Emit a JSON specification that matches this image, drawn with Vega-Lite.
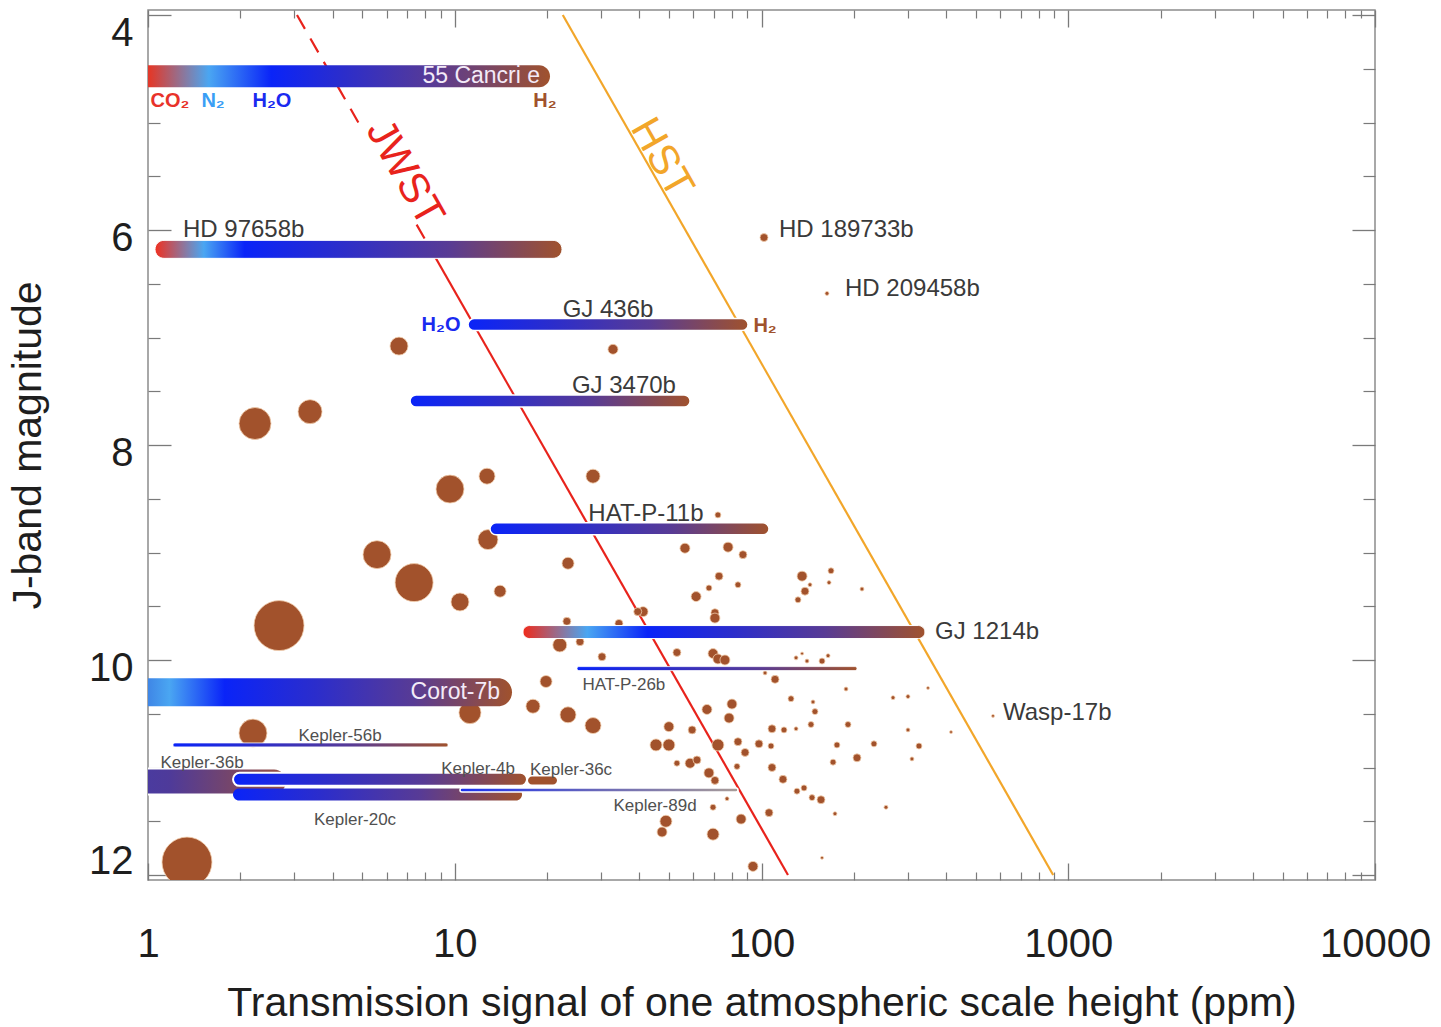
{
  "$schema": "https://vega.github.io/schema/vega-lite/v6.json",
  "width": 1227,
  "height": 870,
  "autosize": {"type": "none"},
  "padding": {"left": 148, "top": 10, "right": 66, "bottom": 147},
  "background": "white",
  "config": {
    "view": {"stroke": "#8c8c8c", "strokeWidth": 1.5},
    "font": "Liberation Sans",
    "axis": {"grid": false, "domain": false, "labelFont": "Liberation Sans", "titleFont": "Liberation Sans"},
    "text": {"font": "Liberation Sans"}
  },
  "datasets": {
    "limits": [
      {"instrument": "JWST", "segment": "solid", "ppm": 8.43, "jmag": 6.2},
      {"instrument": "JWST", "segment": "solid", "ppm": 122, "jmag": 12},
      {"instrument": "HST", "segment": "solid", "ppm": 22.5, "jmag": 4},
      {"instrument": "HST", "segment": "solid", "ppm": 893, "jmag": 12},
      {"instrument": "JWST", "segment": "dashA", "ppm": 3.06, "jmag": 4},
      {"instrument": "JWST", "segment": "dashA", "ppm": 4.85, "jmag": 5.0},
      {"instrument": "JWST", "segment": "dashB", "ppm": 7.51, "jmag": 5.95},
      {"instrument": "JWST", "segment": "dashB", "ppm": 8.43, "jmag": 6.2}
    ],
    "instrument_labels": [
      {"instrument": "JWST", "ppm": 6.88, "jmag": 5.47},
      {"instrument": "HST", "ppm": 47.4, "jmag": 5.33}
    ],
    "planets": [
      {"ppm": 101.9, "jmag": 6.07, "radius": 1.6},
      {"ppm": 163.5, "jmag": 6.59, "radius": 0.8},
      {"ppm": 6.58, "jmag": 7.08, "radius": 3.6},
      {"ppm": 32.8, "jmag": 7.11, "radius": 2.0},
      {"ppm": 2.233, "jmag": 7.80, "radius": 6.4},
      {"ppm": 3.375, "jmag": 7.69, "radius": 4.8},
      {"ppm": 9.65, "jmag": 8.41, "radius": 5.6},
      {"ppm": 12.74, "jmag": 8.29, "radius": 3.2},
      {"ppm": 28.23, "jmag": 8.29, "radius": 2.8},
      {"ppm": 12.83, "jmag": 8.88, "radius": 4.0},
      {"ppm": 5.58, "jmag": 9.02, "radius": 5.6},
      {"ppm": 7.37, "jmag": 9.28, "radius": 7.6},
      {"ppm": 10.40, "jmag": 9.46, "radius": 3.6},
      {"ppm": 14.05, "jmag": 9.36, "radius": 2.4},
      {"ppm": 23.40, "jmag": 9.10, "radius": 2.4},
      {"ppm": 2.674, "jmag": 9.68, "radius": 10.0},
      {"ppm": 72.1, "jmag": 8.65, "radius": 1.2},
      {"ppm": 56.3, "jmag": 8.96, "radius": 2.0},
      {"ppm": 77.8, "jmag": 8.95, "radius": 2.0},
      {"ppm": 87.0, "jmag": 9.02, "radius": 1.6},
      {"ppm": 72.7, "jmag": 9.22, "radius": 1.6},
      {"ppm": 67.4, "jmag": 9.33, "radius": 1.2},
      {"ppm": 83.8, "jmag": 9.30, "radius": 1.2},
      {"ppm": 61.2, "jmag": 9.41, "radius": 2.0},
      {"ppm": 135.6, "jmag": 9.22, "radius": 2.0},
      {"ppm": 168.5, "jmag": 9.17, "radius": 1.2},
      {"ppm": 166.0, "jmag": 9.28, "radius": 0.8},
      {"ppm": 143.9, "jmag": 9.30, "radius": 0.8},
      {"ppm": 138.6, "jmag": 9.36, "radius": 1.6},
      {"ppm": 131.5, "jmag": 9.44, "radius": 1.2},
      {"ppm": 212.6, "jmag": 9.34, "radius": 0.8},
      {"ppm": 41.1, "jmag": 9.55, "radius": 2.0},
      {"ppm": 39.5, "jmag": 9.55, "radius": 1.6},
      {"ppm": 70.5, "jmag": 9.56, "radius": 1.6},
      {"ppm": 70.5, "jmag": 9.61, "radius": 2.0},
      {"ppm": 23.2, "jmag": 9.64, "radius": 1.6},
      {"ppm": 34.3, "jmag": 9.66, "radius": 1.6},
      {"ppm": 22.0, "jmag": 9.86, "radius": 2.8},
      {"ppm": 25.6, "jmag": 9.83, "radius": 1.6},
      {"ppm": 53.0, "jmag": 9.93, "radius": 1.6},
      {"ppm": 30.2, "jmag": 9.97, "radius": 1.6},
      {"ppm": 69.5, "jmag": 9.94, "radius": 2.0},
      {"ppm": 72.1, "jmag": 9.99, "radius": 2.0},
      {"ppm": 76.0, "jmag": 10.00, "radius": 2.0},
      {"ppm": 129.6, "jmag": 9.98, "radius": 0.8},
      {"ppm": 140.7, "jmag": 10.01, "radius": 0.8},
      {"ppm": 157.5, "jmag": 10.01, "radius": 1.2},
      {"ppm": 164.8, "jmag": 9.96, "radius": 0.8},
      {"ppm": 135.6, "jmag": 9.94, "radius": 0.6},
      {"ppm": 102.7, "jmag": 10.12, "radius": 0.8},
      {"ppm": 110.7, "jmag": 10.18, "radius": 1.6},
      {"ppm": 19.84, "jmag": 10.20, "radius": 2.4},
      {"ppm": 17.99, "jmag": 10.43, "radius": 2.8},
      {"ppm": 23.40, "jmag": 10.51, "radius": 3.2},
      {"ppm": 28.23, "jmag": 10.61, "radius": 3.2},
      {"ppm": 66.4, "jmag": 10.46, "radius": 2.0},
      {"ppm": 80.1, "jmag": 10.41, "radius": 2.0},
      {"ppm": 78.4, "jmag": 10.54, "radius": 2.0},
      {"ppm": 49.9, "jmag": 10.62, "radius": 2.0},
      {"ppm": 59.4, "jmag": 10.65, "radius": 1.6},
      {"ppm": 124.8, "jmag": 10.36, "radius": 1.2},
      {"ppm": 147.2, "jmag": 10.39, "radius": 0.8},
      {"ppm": 149.4, "jmag": 10.48, "radius": 1.2},
      {"ppm": 145.0, "jmag": 10.60, "radius": 1.2},
      {"ppm": 129.6, "jmag": 10.64, "radius": 0.8},
      {"ppm": 191.4, "jmag": 10.60, "radius": 1.2},
      {"ppm": 188.6, "jmag": 10.27, "radius": 0.8},
      {"ppm": 268.4, "jmag": 10.35, "radius": 0.8},
      {"ppm": 300.3, "jmag": 10.34, "radius": 0.8},
      {"ppm": 349.0, "jmag": 10.26, "radius": 0.6},
      {"ppm": 300.3, "jmag": 10.65, "radius": 0.8},
      {"ppm": 414.8, "jmag": 10.67, "radius": 0.6},
      {"ppm": 568.5, "jmag": 10.52, "radius": 0.6},
      {"ppm": 45.3, "jmag": 10.79, "radius": 2.4},
      {"ppm": 49.9, "jmag": 10.79, "radius": 2.4},
      {"ppm": 72.1, "jmag": 10.79, "radius": 2.4},
      {"ppm": 83.8, "jmag": 10.76, "radius": 1.6},
      {"ppm": 88.4, "jmag": 10.86, "radius": 1.6},
      {"ppm": 98.1, "jmag": 10.78, "radius": 1.6},
      {"ppm": 107.4, "jmag": 10.80, "radius": 1.2},
      {"ppm": 108.2, "jmag": 10.64, "radius": 1.6},
      {"ppm": 118.4, "jmag": 10.65, "radius": 1.2},
      {"ppm": 176.2, "jmag": 10.79, "radius": 1.2},
      {"ppm": 232.6, "jmag": 10.78, "radius": 1.2},
      {"ppm": 326.1, "jmag": 10.80, "radius": 1.2},
      {"ppm": 171.1, "jmag": 10.95, "radius": 1.2},
      {"ppm": 204.8, "jmag": 10.91, "radius": 1.6},
      {"ppm": 309.4, "jmag": 10.92, "radius": 0.8},
      {"ppm": 53.0, "jmag": 10.96, "radius": 1.2},
      {"ppm": 58.5, "jmag": 10.96, "radius": 2.0},
      {"ppm": 61.6, "jmag": 10.93, "radius": 1.6},
      {"ppm": 83.2, "jmag": 10.99, "radius": 1.2},
      {"ppm": 108.2, "jmag": 11.00, "radius": 1.6},
      {"ppm": 67.4, "jmag": 11.05, "radius": 2.0},
      {"ppm": 70.5, "jmag": 11.12, "radius": 1.6},
      {"ppm": 117.5, "jmag": 11.11, "radius": 1.6},
      {"ppm": 130.5, "jmag": 11.22, "radius": 1.2},
      {"ppm": 137.6, "jmag": 11.19, "radius": 1.2},
      {"ppm": 146.1, "jmag": 11.28, "radius": 1.2},
      {"ppm": 156.3, "jmag": 11.30, "radius": 1.6},
      {"ppm": 173.6, "jmag": 11.43, "radius": 0.8},
      {"ppm": 254.6, "jmag": 11.37, "radius": 0.8},
      {"ppm": 69.5, "jmag": 11.37, "radius": 1.2},
      {"ppm": 77.2, "jmag": 11.29, "radius": 0.8},
      {"ppm": 105.8, "jmag": 11.42, "radius": 1.6},
      {"ppm": 85.8, "jmag": 11.48, "radius": 2.0},
      {"ppm": 48.8, "jmag": 11.50, "radius": 2.4},
      {"ppm": 47.4, "jmag": 11.60, "radius": 2.0},
      {"ppm": 69.5, "jmag": 11.62, "radius": 2.4},
      {"ppm": 157.5, "jmag": 11.84, "radius": 0.6},
      {"ppm": 93.8, "jmag": 11.92, "radius": 2.0},
      {"ppm": 11.21, "jmag": 10.49, "radius": 4.4},
      {"ppm": 2.199, "jmag": 10.68, "radius": 5.6},
      {"ppm": 1.340, "jmag": 11.88, "radius": 10.0}
    ],
    "bars": [
      {"name": "55 Cancri e", "ppm": 0.9, "ppm2": 20.44, "jmag": 4.57},
      {"name": "HD 97658b", "ppm": 1.054, "ppm2": 22.37, "jmag": 6.18},
      {"name": "GJ 436b", "ppm": 11.05, "ppm2": 90.4, "jmag": 6.88},
      {"name": "GJ 3470b", "ppm": 7.15, "ppm2": 58.5, "jmag": 7.59},
      {"name": "HAT-P-11b", "ppm": 13.03, "ppm2": 105.8, "jmag": 8.78},
      {"name": "GJ 1214b", "ppm": 16.69, "ppm2": 341, "jmag": 9.74},
      {"name": "HAT-P-26b", "ppm": 25.03, "ppm2": 204.8, "jmag": 10.08},
      {"name": "Corot-7b", "ppm": 0.8, "ppm2": 15.37, "jmag": 10.30},
      {"name": "Kepler-56b", "ppm": 1.206, "ppm2": 9.51, "jmag": 10.79},
      {"name": "Kepler-36b", "ppm": 0.8, "ppm2": 2.839, "jmag": 11.13},
      {"name": "Kepler-20c", "ppm": 1.893, "ppm2": 16.57, "jmag": 11.25},
      {"name": "Kepler-4b", "ppm": 1.893, "ppm2": 17.20, "jmag": 11.11},
      {"name": "Kepler-89d", "ppm": 10.40, "ppm2": 83.8, "jmag": 11.21},
      {"name": "Kepler-36c", "ppm": 17.33, "ppm2": 21.54, "jmag": 11.12}
    ],
    "labels_left": [
      {"label": "HD 97658b", "ppm": 1.300, "jmag": 6.00},
      {"label": "HD 189733b", "ppm": 114.0, "jmag": 6.00},
      {"label": "HD 209458b", "ppm": 187.2, "jmag": 6.55},
      {"label": "GJ 1214b", "ppm": 367.9, "jmag": 9.74},
      {"label": "Wasp-17b", "ppm": 612.8, "jmag": 10.49}
    ],
    "labels_center": [
      {"label": "GJ 436b", "ppm": 31.6, "jmag": 6.74},
      {"label": "GJ 3470b", "ppm": 35.6, "jmag": 7.45},
      {"label": "HAT-P-11b", "ppm": 42.0, "jmag": 8.64}
    ],
    "labels_inbar": [
      {"label": "55 Cancri e", "ppm": 18.97, "jmag": 4.57},
      {"label": "Corot-7b", "ppm": 14.05, "jmag": 10.30}
    ],
    "labels_small": [
      {"label": "Kepler-56b", "ppm": 4.227, "jmag": 10.71},
      {"label": "Kepler-36b", "ppm": 1.50, "jmag": 10.96},
      {"label": "Kepler-4b", "ppm": 11.91, "jmag": 11.01},
      {"label": "Kepler-36c", "ppm": 23.93, "jmag": 11.02},
      {"label": "Kepler-20c", "ppm": 4.73, "jmag": 11.49},
      {"label": "Kepler-89d", "ppm": 44.97, "jmag": 11.36},
      {"label": "HAT-P-26b", "ppm": 35.6, "jmag": 10.23}
    ],
    "molecules": [
      {"molecule": "CO₂", "ppm": 1.18, "jmag": 4.80},
      {"molecule": "N₂", "ppm": 1.63, "jmag": 4.80},
      {"molecule": "H₂O", "ppm": 2.536, "jmag": 4.80},
      {"molecule": "H₂", "ppm": 19.69, "jmag": 4.80},
      {"molecule": "H₂O", "ppm": 9.02, "jmag": 6.88},
      {"molecule": "H₂", "ppm": 102.7, "jmag": 6.89}
    ]
  },
  "layer": [
    {
      "data": {"name": "limits"},
      "transform": [{"filter": "datum.instrument === 'JWST' && datum.segment === 'solid'"}],
      "mark": {"type": "line", "color": "#e8231c", "strokeWidth": 2.2, "clip": true},
      "encoding": {
        "x": {"field": "ppm", "type": "quantitative", "scale": {"type": "log", "domain": [1, 10000], "nice": false},
          "axis": {"orient": "bottom", "values": [1, 10, 100, 1000, 10000], "labels": false, "ticks": true, "tickSize": -17, "tickColor": "#7a7a7a", "tickWidth": 1.3, "domain": false, "grid": false, "title": null}},
        "y": {"field": "jmag", "type": "quantitative", "scale": {"domain": [4, 12], "reverse": true, "nice": false, "zero": false},
          "axis": {"orient": "left", "values": [4, 6, 8, 10, 12], "labels": false, "ticks": true, "tickSize": -23, "tickColor": "#7a7a7a", "tickWidth": 1.3, "domain": false, "grid": false, "title": null}}
      }
    },
    {
      "data": {"name": "limits"},
      "transform": [{"filter": "datum.instrument === 'HST'"}],
      "mark": {"type": "line", "color": "#f2a62a", "strokeWidth": 2.2, "clip": true},
      "encoding": {
        "x": {"field": "ppm", "type": "quantitative", "scale": {"type": "log", "domain": [1, 10000], "nice": false},
          "axis": {"orient": "bottom", "values": [2, 3, 4, 5, 6, 7, 8, 9, 20, 30, 40, 50, 60, 70, 80, 90, 200, 300, 400, 500, 600, 700, 800, 900, 2000, 3000, 4000, 5000, 6000, 7000, 8000, 9000], "labels": false, "ticks": true, "tickSize": -8, "tickColor": "#7a7a7a", "tickWidth": 1.2, "domain": false, "grid": false, "title": null}},
        "y": {"field": "jmag", "type": "quantitative", "scale": {"domain": [4, 12], "reverse": true, "nice": false, "zero": false},
          "axis": {"orient": "left", "values": [4.5, 5, 5.5, 6.5, 7, 7.5, 8.5, 9, 9.5, 10.5, 11, 11.5], "labels": false, "ticks": true, "tickSize": -12, "tickColor": "#7a7a7a", "tickWidth": 1.2, "domain": false, "grid": false, "title": null}}
      }
    },
    {
      "data": {"name": "limits"},
      "transform": [{"filter": "datum.instrument === 'JWST' && datum.segment !== 'solid'"}],
      "mark": {"type": "line", "color": "#e8231c", "strokeWidth": 2.2, "strokeDash": [16, 11], "clip": true},
      "encoding": {
        "detail": {"field": "segment"},
        "x": {"field": "ppm", "type": "quantitative", "scale": {"type": "log", "domain": [1, 10000], "nice": false},
          "axis": {"orient": "top", "values": [1, 10, 100, 1000, 10000], "labels": false, "ticks": true, "tickSize": -17, "tickColor": "#7a7a7a", "tickWidth": 1.3, "domain": false, "grid": false, "title": null}},
        "y": {"field": "jmag", "type": "quantitative", "scale": {"domain": [4, 12], "reverse": true, "nice": false, "zero": false},
          "axis": {"orient": "right", "values": [4, 6, 8, 10, 12], "labels": false, "ticks": true, "tickSize": -23, "tickColor": "#7a7a7a", "tickWidth": 1.3, "domain": false, "grid": false, "title": null}}
      }
    },
    {
      "data": {"name": "planets"},
      "mark": {"type": "circle", "color": "#a2522c", "opacity": 1, "stroke": "#f2cfae", "strokeWidth": 0.8, "clip": true},
      "encoding": {
        "x": {"field": "ppm", "type": "quantitative", "scale": {"type": "log", "domain": [1, 10000], "nice": false},
          "axis": {"orient": "bottom", "values": [1, 10, 100, 1000, 10000], "format": "d", "ticks": false, "tickSize": 0, "labelFontSize": 40, "labelColor": "#1e1e1e", "labelPadding": 44, "labelFlush": false, "labelOverlap": false, "labelBound": false, "domain": false, "grid": false,
            "title": "Transmission signal of one atmospheric scale height (ppm)", "titleFontSize": 41, "titleFontWeight": "normal", "titleColor": "#1e1e1e", "titlePadding": 19}},
        "y": {"field": "jmag", "type": "quantitative", "scale": {"domain": [4, 12], "reverse": true, "nice": false, "zero": false},
          "axis": {"orient": "left", "values": [6, 8, 10], "ticks": false, "tickSize": 0, "labelFontSize": 40, "labelColor": "#1e1e1e", "labelPadding": 15, "labelOffset": 8, "labelFlush": false, "labelOverlap": false, "domain": false, "grid": false,
            "title": "J-band magnitude", "titleFontSize": 41, "titleFontWeight": "normal", "titleColor": "#1e1e1e", "titlePadding": 39}},
        "size": {"field": "radius", "type": "quantitative", "scale": {"type": "pow", "exponent": 2, "domain": [0, 10], "range": [0, 2500]}, "legend": null}
      }
    },
    {
      "data": {"name": "bars"},
      "transform": [{"filter": {"field": "name", "equal": "55 Cancri e"}}],
      "mark": {"type": "bar", "orient": "horizontal", "size": 22, "cornerRadius": 11, "clip": true,
        "fill": {"gradient": "linear", "stops": [{"offset": 0, "color": "#e8342a"}, {"offset": 0.04, "color": "#e03a2c"}, {"offset": 0.18, "color": "#4aa6f2"}, {"offset": 0.33, "color": "#0a24f8"}, {"offset": 0.5, "color": "#2b2dcc"}, {"offset": 0.72, "color": "#583b95"}, {"offset": 1, "color": "#a0522d"}]}},
      "encoding": {
        "x": {"field": "ppm", "type": "quantitative", "scale": {"type": "log", "domain": [1, 10000], "nice": false},
          "axis": {"orient": "top", "values": [2, 3, 4, 5, 6, 7, 8, 9, 20, 30, 40, 50, 60, 70, 80, 90, 200, 300, 400, 500, 600, 700, 800, 900, 2000, 3000, 4000, 5000, 6000, 7000, 8000, 9000], "labels": false, "ticks": true, "tickSize": -8, "tickColor": "#7a7a7a", "tickWidth": 1.2, "domain": false, "grid": false, "title": null}},
        "x2": {"field": "ppm2"},
        "y": {"field": "jmag", "type": "quantitative", "scale": {"domain": [4, 12], "reverse": true, "nice": false, "zero": false},
          "axis": {"orient": "right", "values": [4.5, 5, 5.5, 6.5, 7, 7.5, 8.5, 9, 9.5, 10.5, 11, 11.5], "labels": false, "ticks": true, "tickSize": -12, "tickColor": "#7a7a7a", "tickWidth": 1.2, "domain": false, "grid": false, "title": null}}
      }
    },
    {
      "data": {"name": "bars"},
      "transform": [{"filter": {"field": "name", "equal": "HD 97658b"}}],
      "mark": {"type": "bar", "orient": "horizontal", "size": 18, "cornerRadius": 9, "clip": true, "stroke": "white", "strokeWidth": 1,
        "fill": {"gradient": "linear", "stops": [{"offset": 0, "color": "#f03020"}, {"offset": 0.12, "color": "#4aa6f2"}, {"offset": 0.22, "color": "#0a24f8"}, {"offset": 0.45, "color": "#2b2dcc"}, {"offset": 0.72, "color": "#583b95"}, {"offset": 1, "color": "#a0522d"}]}},
      "encoding": {
        "x": {"field": "ppm", "type": "quantitative", "scale": {"type": "log", "domain": [1, 10000], "nice": false}, "axis": null},
        "x2": {"field": "ppm2"},
        "y": {"field": "jmag", "type": "quantitative", "scale": {"domain": [4, 12], "reverse": true, "nice": false, "zero": false},
          "axis": {"orient": "left", "values": [4], "ticks": false, "tickSize": 0, "labelFontSize": 40, "labelColor": "#1e1e1e", "labelPadding": 15, "labelOffset": 18, "labelFlush": false, "labelOverlap": false, "domain": false, "grid": false, "title": null}}
      }
    },
    {
      "data": {"name": "bars"},
      "transform": [{"filter": {"field": "name", "oneOf": ["GJ 436b", "GJ 3470b", "HAT-P-11b"]}}],
      "mark": {"type": "bar", "orient": "horizontal", "size": 12, "cornerRadius": 6, "clip": true, "stroke": "white", "strokeWidth": 1.5,
        "fill": {"gradient": "linear", "stops": [{"offset": 0, "color": "#0a24f8"}, {"offset": 0.3, "color": "#2b2dcc"}, {"offset": 0.65, "color": "#583b95"}, {"offset": 1, "color": "#a0522d"}]}},
      "encoding": {
        "x": {"field": "ppm", "type": "quantitative", "scale": {"type": "log", "domain": [1, 10000], "nice": false}, "axis": null},
        "x2": {"field": "ppm2"},
        "y": {"field": "jmag", "type": "quantitative", "scale": {"domain": [4, 12], "reverse": true, "nice": false, "zero": false},
          "axis": {"orient": "left", "values": [12], "ticks": false, "tickSize": 0, "labelFontSize": 40, "labelColor": "#1e1e1e", "labelPadding": 15, "labelOffset": -14, "labelFlush": false, "labelOverlap": false, "domain": false, "grid": false, "title": null}}
      }
    },
    {
      "data": {"name": "bars"},
      "transform": [{"filter": {"field": "name", "equal": "GJ 1214b"}}],
      "mark": {"type": "bar", "orient": "horizontal", "size": 13, "cornerRadius": 6.5, "clip": true, "stroke": "white", "strokeWidth": 1,
        "fill": {"gradient": "linear", "stops": [{"offset": 0, "color": "#f02a1a"}, {"offset": 0.16, "color": "#4aa6f2"}, {"offset": 0.31, "color": "#0a24f8"}, {"offset": 0.52, "color": "#2b2dcc"}, {"offset": 0.75, "color": "#583b95"}, {"offset": 1, "color": "#a0522d"}]}},
      "encoding": {
        "x": {"field": "ppm", "type": "quantitative", "scale": {"type": "log", "domain": [1, 10000], "nice": false}, "axis": null},
        "x2": {"field": "ppm2"},
        "y": {"field": "jmag", "type": "quantitative", "scale": {"domain": [4, 12], "reverse": true, "nice": false, "zero": false}, "axis": null}
      }
    },
    {
      "data": {"name": "bars"},
      "transform": [{"filter": {"field": "name", "oneOf": ["HAT-P-26b", "Kepler-56b"]}}],
      "mark": {"type": "bar", "orient": "horizontal", "size": 4, "cornerRadius": 2, "clip": true, "stroke": "white", "strokeWidth": 0.8,
        "fill": {"gradient": "linear", "stops": [{"offset": 0, "color": "#0a24f8"}, {"offset": 0.3, "color": "#2b2dcc"}, {"offset": 0.65, "color": "#583b95"}, {"offset": 1, "color": "#a0522d"}]}},
      "encoding": {
        "x": {"field": "ppm", "type": "quantitative", "scale": {"type": "log", "domain": [1, 10000], "nice": false}, "axis": null},
        "x2": {"field": "ppm2"},
        "y": {"field": "jmag", "type": "quantitative", "scale": {"domain": [4, 12], "reverse": true, "nice": false, "zero": false}, "axis": null}
      }
    },
    {
      "data": {"name": "bars"},
      "transform": [{"filter": {"field": "name", "equal": "Corot-7b"}}],
      "mark": {"type": "bar", "orient": "horizontal", "size": 28, "cornerRadius": 14, "clip": true,
        "fill": {"gradient": "linear", "stops": [{"offset": 0, "color": "#8a6aa0"}, {"offset": 0.075, "color": "#3f86e6"}, {"offset": 0.13, "color": "#4aa6f2"}, {"offset": 0.27, "color": "#0a24f8"}, {"offset": 0.5, "color": "#2b2dcc"}, {"offset": 0.75, "color": "#583b95"}, {"offset": 1, "color": "#a0522d"}]}},
      "encoding": {
        "x": {"field": "ppm", "type": "quantitative", "scale": {"type": "log", "domain": [1, 10000], "nice": false}, "axis": null},
        "x2": {"field": "ppm2"},
        "y": {"field": "jmag", "type": "quantitative", "scale": {"domain": [4, 12], "reverse": true, "nice": false, "zero": false}, "axis": null}
      }
    },
    {
      "data": {"name": "bars"},
      "transform": [{"filter": {"field": "name", "equal": "Kepler-36b"}}],
      "mark": {"type": "bar", "orient": "horizontal", "size": 26, "cornerRadius": 13, "clip": true, "stroke": "white", "strokeWidth": 2,
        "fill": {"gradient": "linear", "stops": [{"offset": 0, "color": "#463ca6"}, {"offset": 0.3, "color": "#4e3a9a"}, {"offset": 1, "color": "#9a5040"}]}},
      "encoding": {
        "x": {"field": "ppm", "type": "quantitative", "scale": {"type": "log", "domain": [1, 10000], "nice": false}, "axis": null},
        "x2": {"field": "ppm2"},
        "y": {"field": "jmag", "type": "quantitative", "scale": {"domain": [4, 12], "reverse": true, "nice": false, "zero": false}, "axis": null}
      }
    },
    {
      "data": {"name": "bars"},
      "transform": [{"filter": {"field": "name", "equal": "Kepler-20c"}}],
      "mark": {"type": "bar", "orient": "horizontal", "size": 12, "cornerRadius": 6, "clip": true,
        "fill": {"gradient": "linear", "stops": [{"offset": 0, "color": "#0a24f8"}, {"offset": 0.3, "color": "#2b2dcc"}, {"offset": 0.65, "color": "#583b95"}, {"offset": 1, "color": "#a0522d"}]}},
      "encoding": {
        "x": {"field": "ppm", "type": "quantitative", "scale": {"type": "log", "domain": [1, 10000], "nice": false}, "axis": null},
        "x2": {"field": "ppm2"},
        "y": {"field": "jmag", "type": "quantitative", "scale": {"domain": [4, 12], "reverse": true, "nice": false, "zero": false}, "axis": null}
      }
    },
    {
      "data": {"name": "bars"},
      "transform": [{"filter": {"field": "name", "equal": "Kepler-4b"}}],
      "mark": {"type": "bar", "orient": "horizontal", "size": 13, "cornerRadius": 6.5, "clip": true, "stroke": "white", "strokeWidth": 2,
        "fill": {"gradient": "linear", "stops": [{"offset": 0, "color": "#0a24f8"}, {"offset": 0.3, "color": "#2b2dcc"}, {"offset": 0.65, "color": "#583b95"}, {"offset": 1, "color": "#a0522d"}]}},
      "encoding": {
        "x": {"field": "ppm", "type": "quantitative", "scale": {"type": "log", "domain": [1, 10000], "nice": false}, "axis": null},
        "x2": {"field": "ppm2"},
        "y": {"field": "jmag", "type": "quantitative", "scale": {"domain": [4, 12], "reverse": true, "nice": false, "zero": false}, "axis": null}
      }
    },
    {
      "data": {"name": "bars"},
      "transform": [{"filter": {"field": "name", "equal": "Kepler-89d"}}],
      "mark": {"type": "bar", "orient": "horizontal", "size": 4, "cornerRadius": 2, "clip": true, "stroke": "white", "strokeWidth": 1.5,
        "fill": {"gradient": "linear", "stops": [{"offset": 0, "color": "#1a30f0"}, {"offset": 0.5, "color": "#6a68b8"}, {"offset": 1, "color": "#a89c98"}]}},
      "encoding": {
        "x": {"field": "ppm", "type": "quantitative", "scale": {"type": "log", "domain": [1, 10000], "nice": false}, "axis": null},
        "x2": {"field": "ppm2"},
        "y": {"field": "jmag", "type": "quantitative", "scale": {"domain": [4, 12], "reverse": true, "nice": false, "zero": false}, "axis": null}
      }
    },
    {
      "data": {"name": "bars"},
      "transform": [{"filter": {"field": "name", "equal": "Kepler-36c"}}],
      "mark": {"type": "bar", "orient": "horizontal", "size": 8, "cornerRadius": 4, "clip": true, "fill": "#a0522d"},
      "encoding": {
        "x": {"field": "ppm", "type": "quantitative", "scale": {"type": "log", "domain": [1, 10000], "nice": false}, "axis": null},
        "x2": {"field": "ppm2"},
        "y": {"field": "jmag", "type": "quantitative", "scale": {"domain": [4, 12], "reverse": true, "nice": false, "zero": false}, "axis": null}
      }
    },
    {
      "data": {"name": "instrument_labels"},
      "transform": [{"filter": "datum.instrument === 'JWST'"}],
      "mark": {"type": "text", "angle": 60.5, "align": "center", "baseline": "middle", "fontSize": 42, "color": "#e8231c"},
      "encoding": {
        "x": {"field": "ppm", "type": "quantitative", "scale": {"type": "log", "domain": [1, 10000], "nice": false}, "axis": null},
        "y": {"field": "jmag", "type": "quantitative", "scale": {"domain": [4, 12], "reverse": true, "nice": false, "zero": false}, "axis": null},
        "text": {"field": "instrument"}
      }
    },
    {
      "data": {"name": "instrument_labels"},
      "transform": [{"filter": "datum.instrument === 'HST'"}],
      "mark": {"type": "text", "angle": 60.5, "align": "center", "baseline": "middle", "fontSize": 42, "color": "#f2a62a"},
      "encoding": {
        "x": {"field": "ppm", "type": "quantitative", "scale": {"type": "log", "domain": [1, 10000], "nice": false}, "axis": null},
        "y": {"field": "jmag", "type": "quantitative", "scale": {"domain": [4, 12], "reverse": true, "nice": false, "zero": false}, "axis": null},
        "text": {"field": "instrument"}
      }
    },
    {
      "data": {"name": "labels_left"},
      "mark": {"type": "text", "align": "left", "baseline": "middle", "fontSize": 24, "color": "#3a3a3a"},
      "encoding": {
        "x": {"field": "ppm", "type": "quantitative", "scale": {"type": "log", "domain": [1, 10000], "nice": false}, "axis": null},
        "y": {"field": "jmag", "type": "quantitative", "scale": {"domain": [4, 12], "reverse": true, "nice": false, "zero": false}, "axis": null},
        "text": {"field": "label"}
      }
    },
    {
      "data": {"name": "labels_center"},
      "mark": {"type": "text", "align": "center", "baseline": "middle", "fontSize": 24, "color": "#3a3a3a"},
      "encoding": {
        "x": {"field": "ppm", "type": "quantitative", "scale": {"type": "log", "domain": [1, 10000], "nice": false}, "axis": null},
        "y": {"field": "jmag", "type": "quantitative", "scale": {"domain": [4, 12], "reverse": true, "nice": false, "zero": false}, "axis": null},
        "text": {"field": "label"}
      }
    },
    {
      "data": {"name": "labels_inbar"},
      "mark": {"type": "text", "align": "right", "baseline": "middle", "fontSize": 23, "color": "#f3eaf8"},
      "encoding": {
        "x": {"field": "ppm", "type": "quantitative", "scale": {"type": "log", "domain": [1, 10000], "nice": false}, "axis": null},
        "y": {"field": "jmag", "type": "quantitative", "scale": {"domain": [4, 12], "reverse": true, "nice": false, "zero": false}, "axis": null},
        "text": {"field": "label"}
      }
    },
    {
      "data": {"name": "labels_small"},
      "mark": {"type": "text", "align": "center", "baseline": "middle", "fontSize": 17, "color": "#505050"},
      "encoding": {
        "x": {"field": "ppm", "type": "quantitative", "scale": {"type": "log", "domain": [1, 10000], "nice": false}, "axis": null},
        "y": {"field": "jmag", "type": "quantitative", "scale": {"domain": [4, 12], "reverse": true, "nice": false, "zero": false}, "axis": null},
        "text": {"field": "label"}
      }
    },
    {
      "data": {"name": "molecules"},
      "mark": {"type": "text", "align": "center", "baseline": "middle", "fontSize": 20, "fontWeight": "bold"},
      "encoding": {
        "x": {"field": "ppm", "type": "quantitative", "scale": {"type": "log", "domain": [1, 10000], "nice": false}, "axis": null},
        "y": {"field": "jmag", "type": "quantitative", "scale": {"domain": [4, 12], "reverse": true, "nice": false, "zero": false}, "axis": null},
        "text": {"field": "molecule"},
        "color": {"field": "molecule", "type": "nominal", "scale": {"domain": ["CO₂", "N₂", "H₂O", "H₂"], "range": ["#e8322a", "#3a9ef5", "#1a2af0", "#a0522d"]}, "legend": null}
      }
    }
  ],
  "resolve": {"axis": {"x": "independent", "y": "independent"}}
}
